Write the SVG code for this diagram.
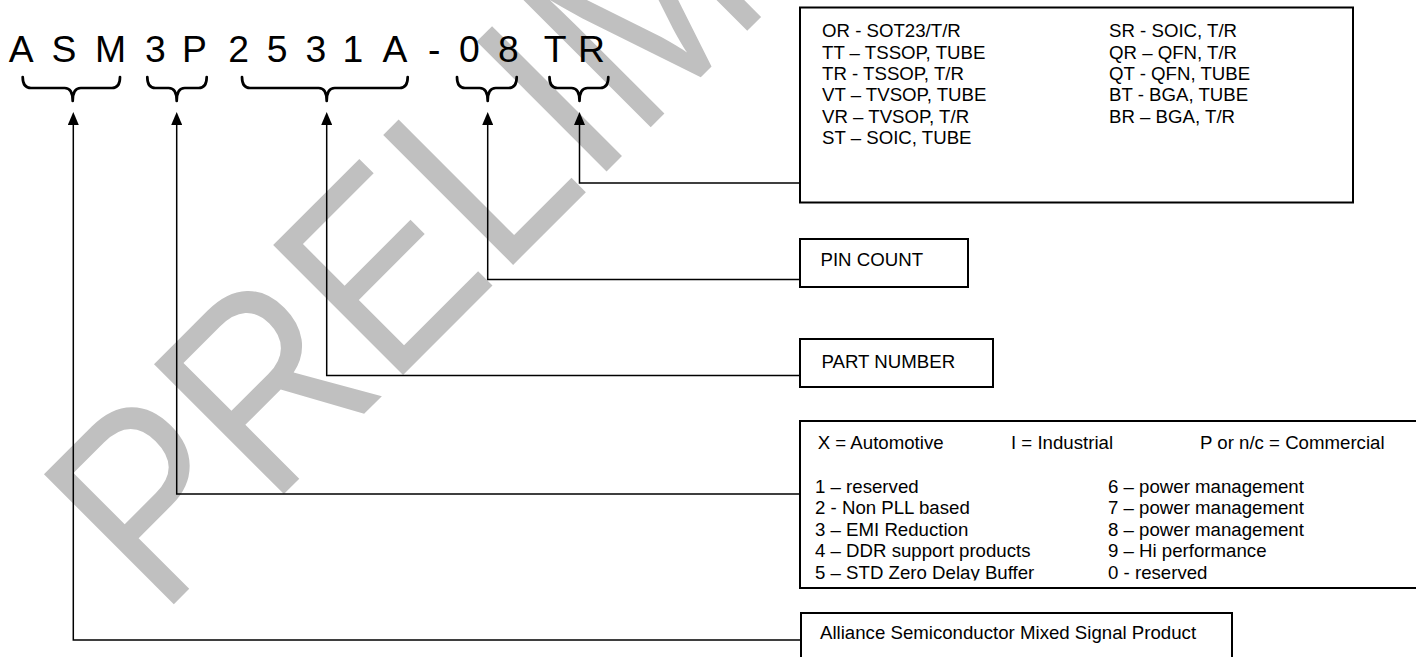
<svg xmlns="http://www.w3.org/2000/svg" width="1416" height="657" viewBox="0 0 1416 657">
<style>
.t{font-family:"Liberation Sans",Arial,sans-serif;font-size:18.65px;fill:#000}
.code{font-family:"Liberation Sans",Arial,sans-serif;font-size:37.3px;fill:#000}
.box{fill:#fff;stroke:#000;stroke-width:2}
.conn{fill:none;stroke:#000;stroke-width:1.5}
.brace{fill:none;stroke:#000;stroke-width:2.7;stroke-linecap:round;stroke-linejoin:round}
.wm{font-family:"Liberation Sans",Arial,sans-serif;font-size:267px;fill:#c0c0c0}
</style>
<defs>
<marker id="ah" markerUnits="userSpaceOnUse" markerWidth="13" markerHeight="11" viewBox="0 0 13 11" refX="0" refY="5.5" orient="auto">
<path d="M0,0 L13,5.5 L0,11 Z" fill="#000"/>
</marker>
<clipPath id="gradeclip"><rect x="800" y="421" width="616" height="159.5"/></clipPath>
</defs>
<rect width="1416" height="657" fill="#fff"/>
<g id="watermark"><text class="wm" transform="translate(160.3,617.7) rotate(-45) scale(0.874,1)">PRELIM</text></g>

<g id="connectors">
<path class="conn" d="M801,640 H73.3 V125" marker-end="url(#ah)"/>
<path class="conn" d="M800,494 H176.7 V125" marker-end="url(#ah)"/>
<path class="conn" d="M800,375.5 H326.7 V125" marker-end="url(#ah)"/>
<path class="conn" d="M800,279.5 H487.7 V125" marker-end="url(#ah)"/>
<path class="conn" d="M800,183 H579.5 V125" marker-end="url(#ah)"/>
</g>

<g id="part-code">
<text class="code" y="62"><tspan x="8.7">A</tspan> <tspan x="51.5">S</tspan> <tspan x="95">M</tspan> <tspan x="145.1">3</tspan> <tspan x="182">P</tspan> <tspan x="228.2">2</tspan> <tspan x="266.7">5</tspan> <tspan x="305.4">3</tspan> <tspan x="342.6">1</tspan> <tspan x="382.5">A</tspan> <tspan x="428">-</tspan> <tspan x="458.9">0</tspan> <tspan x="497.9">8</tspan> <tspan x="543.7">T</tspan> <tspan x="578">R</tspan></text>
<g id="braces">
<path class="brace" d="M22.7,77 Q22.7,88 31,88 L64.7,88 Q72.7,88 72.7,101 Q72.7,88 80.7,88 L112,88 Q120,88 120,77"/>
<path class="brace" d="M147.3,77 Q147.3,88 155.3,88 L168.7,88 Q176.7,88 176.7,101 Q176.7,88 184.7,88 L198.7,88 Q206.7,88 206.7,77"/>
<path class="brace" d="M242,77 Q242,88 250,88 L318.7,88 Q326.7,88 326.7,101 Q326.7,88 334.7,88 L399.7,88 Q407.7,88 407.7,77"/>
<path class="brace" d="M457,77 Q457,88 465,88 L479.7,88 Q487.7,88 487.7,101 Q487.7,88 495.7,88 L508.7,88 Q516.7,88 516.7,77"/>
<path class="brace" d="M549.5,77 Q549.5,88 557.5,88 L571.5,88 Q579.5,88 579.5,101 Q579.5,88 587.5,88 L600.3,88 Q608.3,88 608.3,77"/>
</g>
</g>

<g id="box-package">
<rect class="box" x="800" y="7.5" width="553" height="195"/>
<text class="t"><tspan x="822" y="37.2">OR - SOT23/T/R</tspan><tspan x="822" y="58.6">TT – TSSOP, TUBE</tspan><tspan x="822" y="80">TR - TSSOP, T/R</tspan><tspan x="822" y="101.4">VT – TVSOP, TUBE</tspan><tspan x="822" y="122.8">VR – TVSOP, T/R</tspan><tspan x="822" y="144.2">ST – SOIC, TUBE</tspan></text>
<text class="t"><tspan x="1109" y="37.2">SR - SOIC, T/R</tspan><tspan x="1109" y="58.6">QR – QFN, T/R</tspan><tspan x="1109" y="80">QT - QFN, TUBE</tspan><tspan x="1109" y="101.4">BT - BGA, TUBE</tspan><tspan x="1109" y="122.8">BR – BGA, T/R</tspan></text>
</g>

<g id="box-pin-count">
<rect class="box" x="800" y="239" width="168" height="48"/>
<text class="t" x="820.5" y="266.4">PIN COUNT</text>
</g>

<g id="box-part-number">
<rect class="box" x="800" y="339" width="193" height="48"/>
<text class="t" x="821.5" y="368">PART NUMBER</text>
</g>

<g id="box-grade">
<rect class="box" x="800" y="421" width="700" height="167"/>
<text class="t" x="817.7" y="449.3">X = Automotive</text>
<text class="t" x="1011" y="449.3">I = Industrial</text>
<text class="t" x="1200" y="449.3">P or n/c = Commercial</text>
<g clip-path="url(#gradeclip)">
<text class="t"><tspan x="815" y="493">1 – reserved</tspan><tspan x="815" y="514.4">2 - Non PLL based</tspan><tspan x="815" y="535.8">3 – EMI Reduction</tspan><tspan x="815" y="557.2">4 – DDR support products</tspan><tspan x="815" y="578.6">5 – STD Zero Delay Buffer</tspan></text>
<text class="t"><tspan x="1108" y="493">6 – power management</tspan><tspan x="1108" y="514.4">7 – power management</tspan><tspan x="1108" y="535.8">8 – power management</tspan><tspan x="1108" y="557.2">9 – Hi performance</tspan><tspan x="1108" y="578.6">0 - reserved</tspan></text>
</g>
</g>

<g id="box-alliance">
<rect class="box" x="801" y="613" width="431" height="100"/>
<text class="t" x="820" y="638.5">Alliance Semiconductor Mixed Signal Product</text>
</g>
</svg>
